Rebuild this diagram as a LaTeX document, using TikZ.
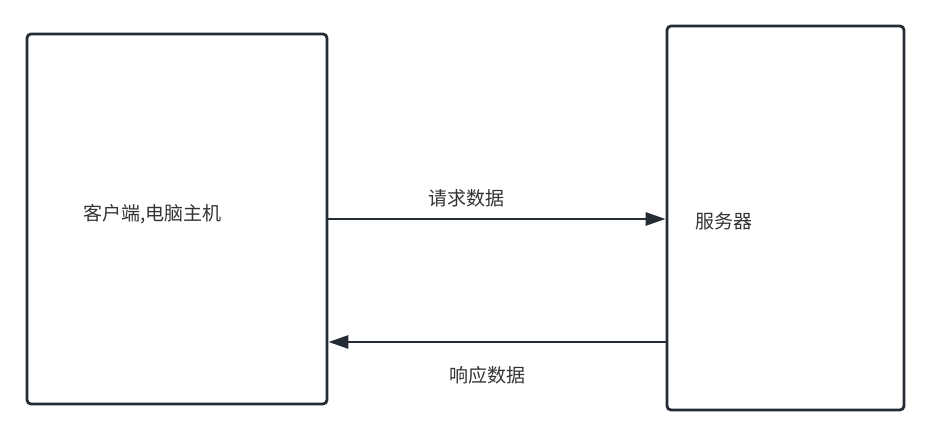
\documentclass[tikz,border=0pt]{standalone}
\usepackage{fontspec}
\newfontfamily\cjk{Noto Sans CJK SC}
\usetikzlibrary{arrows.meta}
\definecolor{edge}{HTML}{262C33}
\definecolor{ink}{HTML}{333333}

\begin{document}
\begin{tikzpicture}[x=1pt, y=-1pt,
    box/.style={draw=edge, line width=2.8pt, rounded corners=4pt, inner sep=0pt},
    lbl/.style={text=ink, font=\cjk\fontsize{19}{21}\selectfont, inner sep=0pt},
    flow/.style={draw=edge, line width=2.8pt, -{Triangle[length=20pt,width=13pt]}}]
    \useasboundingbox (0,0) rectangle (930,438);

    % two boxes
    \node[box, minimum width=300pt, minimum height=370pt] (client) at (177,219) {};
    \node[box, minimum width=237pt, minimum height=384pt] (server) at (785.5,218) {};
    \node[lbl] (clientname) at (152.5,214) {客户端,电脑主机};
    \node[lbl] (servername) at (724,221) {服务器};

    % request / response
    \coordinate (reqa) at (client.east);
    \coordinate (reqb) at (reqa -| server.west);
    \coordinate (resa) at (server.west |- 0,342);
    \coordinate (resb) at (resa -| client.east);
    \draw[flow] (reqa) -- (reqb);
    \draw[flow] (resa) -- (resb);
    \node[lbl] (reqtext) at (466,198) {请求数据};
    \node[lbl] (restext) at (487.5,375) {响应数据};
\end{tikzpicture}
\end{document}
